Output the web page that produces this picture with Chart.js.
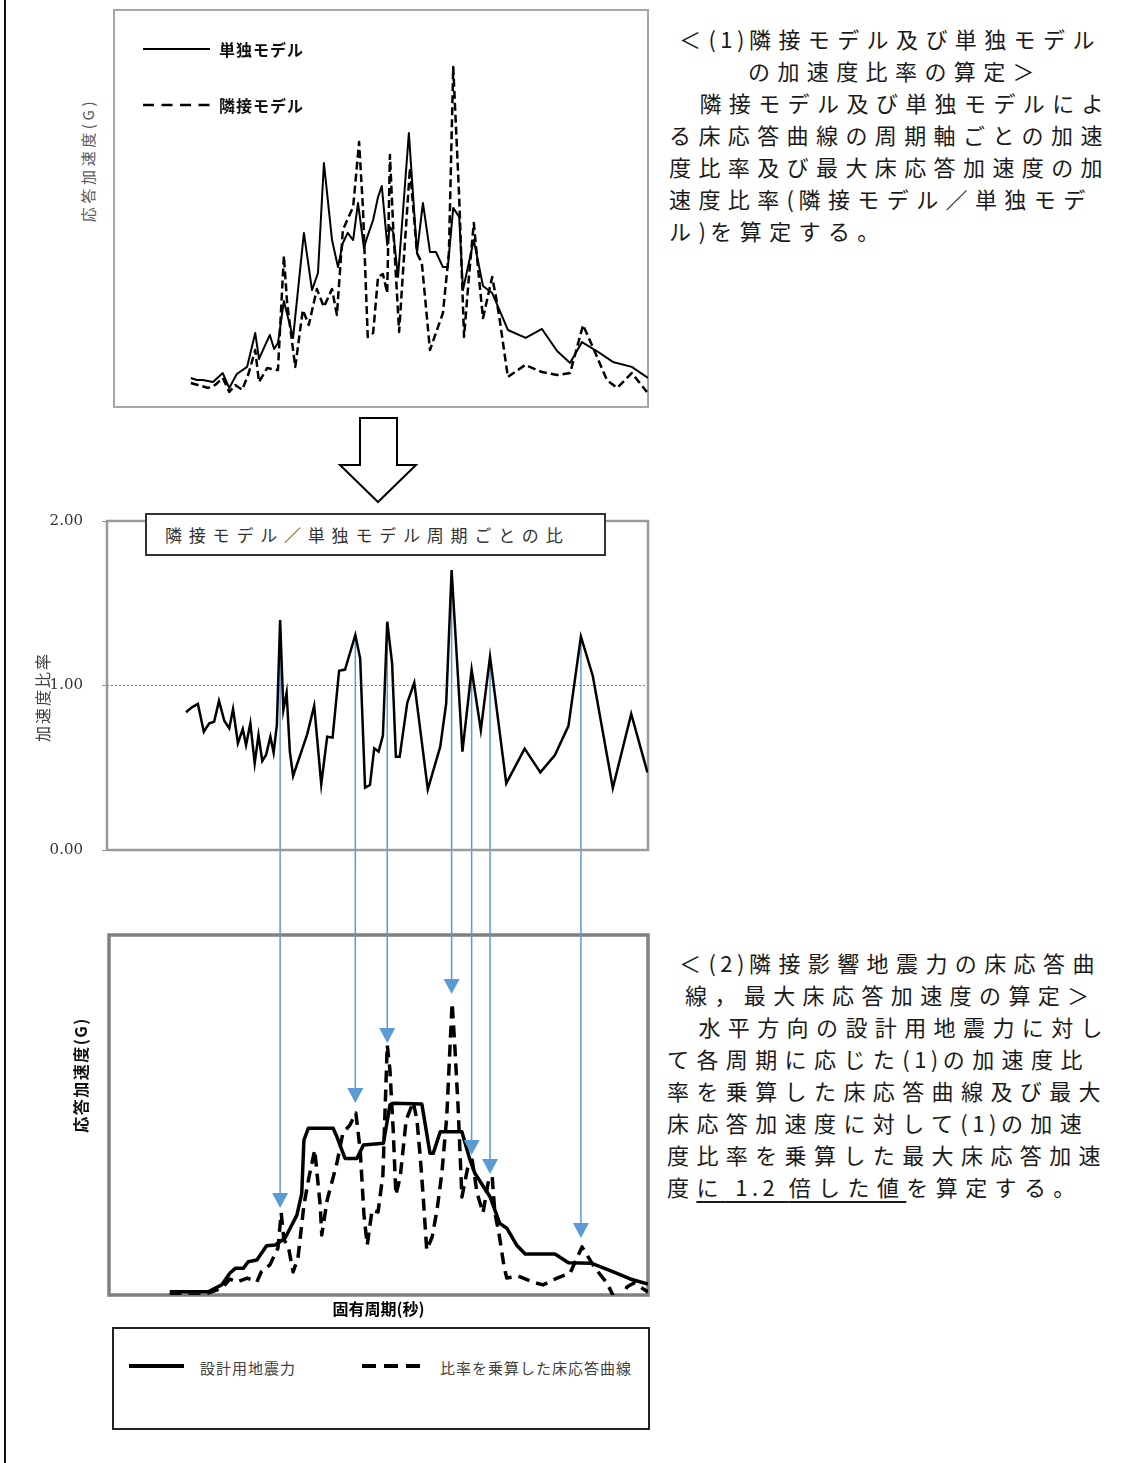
<!DOCTYPE html>
<html lang="ja">
<head>
<meta charset="utf-8">
<title>隣接影響地震力の算定</title>
<script src="https://cdn.jsdelivr.net/npm/chart.js@4.4.1/dist/chart.umd.min.js"></script>
<style>
  html, body { margin: 0; padding: 0; background: #fff; }
  body { width: 1128px; height: 1463px; position: relative; overflow: hidden;
         font-family: 'Noto Sans CJK JP', sans-serif; color: #111; }
  canvas { position: absolute; }
  .abs { position: absolute; }
  .rot { position: absolute; text-align: center; transform: rotate(-90deg); white-space: nowrap; }
  .note { position: absolute; font-size: 22px; letter-spacing: 7.4px; line-height: 32px;
          white-space: nowrap; color: #1a1a1a; }
  .note .h { letter-spacing: 4.5px; }
  .note u { text-decoration-thickness: 2px; text-underline-offset: 5px; }
  .legtxt { position: absolute; white-space: nowrap; line-height: 20px; }
</style>
</head>
<body>

<!-- left rule of the page -->
<div class="abs" style="left:4px;top:0;width:2px;height:1463px;background:#111;"></div>

<!-- response spectra of the two models -->
<canvas id="topChart" width="554" height="417" style="left:104px;top:0;"></canvas>
<div class="rot" style="left:13px;top:150px;width:150px;height:20px;line-height:20px;font-size:15px;letter-spacing:3.6px;color:#595959;">応答加速度(G)</div>
<svg class="abs" style="left:140px;top:39px;" width="75" height="72">
  <line x1="3" y1="10" x2="70" y2="10" stroke="#000" stroke-width="2"/>
  <line x1="3" y1="66" x2="70" y2="66" stroke="#000" stroke-width="2.5" stroke-dasharray="11 7.5"/>
</svg>
<div class="legtxt" id="legSingle" style="left:219px;top:39px;font-size:16px;font-weight:bold;letter-spacing:1px;"></div>
<div class="legtxt" id="legAdj" style="left:219px;top:95px;font-size:16px;font-weight:bold;letter-spacing:1px;"></div>

<!-- block arrow -->
<svg class="abs" style="left:0;top:0;" width="440" height="510">
  <polygon points="360,418 397,418 397,465 416,465 378,502 340,465 360,465" fill="#fff" stroke="#000" stroke-width="2" stroke-linejoin="miter"/>
</svg>

<!-- ratio chart and response chart -->
<canvas id="bottomChart" width="600" height="400" style="left:60px;top:926px;z-index:0;"></canvas>
<svg id="arrows" class="abs" style="left:0;top:0;z-index:1;pointer-events:none;" width="1128" height="1463"></svg>
<canvas id="ratioChart" width="660" height="360" style="left:0;top:505px;z-index:2;"></canvas>
<div class="rot" style="left:-8px;top:687px;width:100px;height:20px;line-height:20px;font-size:16px;letter-spacing:2px;color:#404040;z-index:3;">加速度比率</div>
<div class="abs" style="left:145px;top:513px;width:461px;height:43px;box-sizing:border-box;border:2px solid #333;background:#fff;z-index:3;font-size:17px;letter-spacing:6.8px;line-height:39px;padding-left:18px;color:#333;white-space:nowrap;">隣接モデル／単独モデル周期ごとの比</div>

<div class="rot" style="left:10px;top:1065px;width:140px;height:20px;line-height:20px;font-size:16px;font-weight:bold;letter-spacing:1.5px;">応答加速度(G)</div>

<div class="abs" style="left:112px;top:1327px;width:538px;height:103px;box-sizing:border-box;border:2px solid #222;"></div>
<svg class="abs" style="left:120px;top:1356px;" width="320" height="20">
  <line x1="9" y1="10" x2="64" y2="10" stroke="#000" stroke-width="4"/>
  <line x1="242" y1="10" x2="300" y2="10" stroke="#000" stroke-width="4" stroke-dasharray="14 8"/>
</svg>
<div class="legtxt" id="legDesign" style="left:200px;top:1358px;font-size:15px;letter-spacing:1px;color:#404040;"></div>
<div class="legtxt" id="legScaled" style="left:440px;top:1358px;font-size:15px;letter-spacing:1px;color:#404040;"></div>

<!-- explanatory notes -->
<div class="note" style="left:679px;top:22px;">＜<span class="h">(1)</span>隣接モデル及び単独モデル</div>
<div class="note" style="left:748px;top:54px;">の加速度比率の算定＞</div>
<div class="note" style="left:670px;top:86px;">　隣接モデル及び単独モデルによ</div>
<div class="note" style="left:669px;top:118px;">る床応答曲線の周期軸ごとの加速</div>
<div class="note" style="left:669px;top:150px;">度比率及び最大床応答加速度の加</div>
<div class="note" style="left:669px;top:182px;">速度比率<span class="h">(</span>隣接モデル／単独モデ</div>
<div class="note" style="left:669px;top:214px;">ル<span class="h">)</span>を算定する。</div>

<div class="note" style="left:679px;top:946px;">＜<span class="h">(2)</span>隣接影響地震力の床応答曲</div>
<div class="note" style="left:685px;top:978px;">線，最大床応答加速度の算定＞</div>
<div class="note" style="left:669px;top:1010px;">　水平方向の設計用地震力に対し</div>
<div class="note" style="left:667px;top:1042px;">て各周期に応じた<span class="h">(1)</span>の加速度比</div>
<div class="note" style="left:667px;top:1074px;">率を乗算した床応答曲線及び最大</div>
<div class="note" style="left:667px;top:1106px;">床応答加速度に対して<span class="h">(1)</span>の加速</div>
<div class="note" style="left:667px;top:1138px;">度比率を乗算した最大床応答加速</div>
<div class="note" style="left:667px;top:1170px;">度<u>に<span class="h"> 1.2 </span>倍した値</u>を算定する。</div>

<script>
// ---- series labels ----
const singleLabel = '単独モデル';
const adjLabel = '隣接モデル';
const designLabel = '設計用地震力';
const scaledLabel = '比率を乗算した床応答曲線';

// ---- 単独モデル: floor response (period s, acceleration G) ----
const singlePeriod = [0.155,0.166,0.177,0.196,0.214,0.226,0.240,0.259,0.274,0.281,0.301,0.309,0.316,0.327,0.344,0.364,0.379,0.390,0.401,0.416,0.427,0.436,0.445,0.455,0.464,0.475,0.481,0.492,0.501,0.508,0.518,0.523,0.529,0.538,0.558,0.573,0.584,0.597,0.608,0.621,0.630,0.640,0.651,0.658,0.678,0.695,0.712,0.723,0.741,0.774,0.804,0.832,0.856,0.878,0.908,0.935,0.970,1.000];
const singleAccel  = [0.146,0.136,0.136,0.126,0.171,0.096,0.166,0.202,0.373,0.242,0.363,0.292,0.322,0.534,0.348,0.877,0.589,0.675,1.229,0.841,0.705,0.826,0.877,0.841,1.028,0.801,0.856,0.942,1.058,1.113,0.816,0.907,0.882,0.655,1.380,0.776,1.028,0.781,0.781,0.705,0.705,1.003,0.957,0.589,0.841,0.610,0.574,0.504,0.388,0.348,0.393,0.282,0.222,0.327,0.277,0.227,0.202,0.146];

// ---- 隣接モデル: floor response ----
const adjPeriod = [0.155,0.168,0.187,0.200,0.214,0.226,0.237,0.250,0.262,0.274,0.281,0.296,0.316,0.327,0.333,0.348,0.362,0.373,0.388,0.401,0.416,0.425,0.436,0.455,0.466,0.473,0.482,0.492,0.501,0.510,0.518,0.523,0.529,0.540,0.547,0.560,0.573,0.582,0.597,0.608,0.621,0.632,0.640,0.651,0.660,0.669,0.678,0.688,0.695,0.712,0.719,0.726,0.741,0.773,0.804,0.832,0.856,0.880,0.898,0.924,0.943,0.970,0.998];
const adjAccel  = [0.121,0.111,0.096,0.111,0.146,0.076,0.111,0.086,0.171,0.287,0.126,0.196,0.186,0.761,0.524,0.202,0.489,0.413,0.594,0.504,0.594,0.463,0.892,1.008,1.335,1.008,0.353,0.373,0.655,0.670,0.574,1.270,0.907,0.378,0.675,1.204,0.776,0.725,0.287,0.373,0.474,0.776,1.713,1.058,0.353,0.655,0.927,0.640,0.448,0.655,0.554,0.438,0.151,0.212,0.176,0.161,0.171,0.413,0.302,0.136,0.096,0.171,0.076];

// ---- 隣接／単独 ratio per period ----
const ratioPeriod = [0.146,0.157,0.168,0.179,0.189,0.198,0.207,0.217,0.226,0.233,0.242,0.251,0.257,0.265,0.273,0.280,0.287,0.294,0.302,0.308,0.314,0.320,0.326,0.332,0.338,0.344,0.370,0.383,0.396,0.407,0.417,0.429,0.440,0.459,0.468,0.477,0.486,0.494,0.502,0.510,0.518,0.527,0.534,0.541,0.555,0.568,0.593,0.616,0.627,0.637,0.657,0.674,0.691,0.708,0.738,0.772,0.801,0.828,0.853,0.876,0.898,0.935,0.969,0.999];
const ratioValue  = [0.837,0.867,0.888,0.719,0.770,0.780,0.906,0.784,0.740,0.857,0.649,0.736,0.638,0.770,0.527,0.699,0.541,0.578,0.689,0.592,0.760,1.398,0.851,0.956,0.598,0.450,0.703,0.877,0.399,0.689,0.683,1.090,1.097,1.307,1.165,0.379,0.395,0.618,0.598,0.695,1.388,1.135,0.567,0.567,0.895,1.017,0.369,0.628,0.892,1.702,0.598,1.097,0.729,1.175,0.405,0.616,0.472,0.577,0.755,1.297,1.058,0.377,0.827,0.472];
const ratioTicks = [0, 1, 2];

// ---- 設計用地震力 (design floor response) ----
const designPeriod = [0.116,0.187,0.212,0.227,0.237,0.252,0.261,0.277,0.295,0.311,0.329,0.351,0.360,0.364,0.372,0.418,0.425,0.440,0.462,0.474,0.511,0.523,0.529,0.582,0.597,0.603,0.616,0.656,0.671,0.680,0.708,0.726,0.739,0.757,0.773,0.828,0.853,0.896,0.936,0.967,1.000];
const designAccel  = [0.018,0.018,0.056,0.121,0.148,0.148,0.185,0.194,0.274,0.278,0.315,0.444,0.565,0.861,0.926,0.926,0.879,0.759,0.759,0.833,0.843,1.056,1.065,1.061,0.787,0.787,0.907,0.907,0.750,0.676,0.546,0.398,0.371,0.278,0.228,0.228,0.179,0.176,0.129,0.089,0.061];

// ---- design response multiplied by the ratio ----
const scaledPeriod = [0.116,0.135,0.177,0.213,0.227,0.240,0.259,0.277,0.285,0.301,0.316,0.322,0.327,0.335,0.344,0.353,0.364,0.373,0.384,0.394,0.397,0.407,0.425,0.436,0.449,0.460,0.468,0.475,0.481,0.490,0.501,0.510,0.518,0.523,0.529,0.534,0.542,0.553,0.566,0.573,0.579,0.584,0.591,0.601,0.610,0.619,0.628,0.634,0.638,0.643,0.649,0.656,0.667,0.675,0.684,0.695,0.706,0.712,0.717,0.725,0.734,0.739,0.760,0.787,0.806,0.832,0.856,0.878,0.902,0.924,0.935,0.945,0.961,0.974,1.000];
const scaledAccel  = [0.011,0.000,0.000,0.039,0.089,0.072,0.094,0.072,0.128,0.167,0.261,0.456,0.306,0.272,0.128,0.206,0.500,0.650,0.806,0.500,0.333,0.528,0.733,0.900,0.944,1.011,0.806,0.444,0.278,0.472,0.461,0.667,1.389,1.250,0.917,0.556,0.656,0.972,1.072,0.972,0.767,0.567,0.250,0.322,0.472,0.678,0.989,1.378,1.622,1.378,1.044,0.544,0.711,0.750,0.567,0.456,0.650,0.656,0.456,0.333,0.156,0.094,0.106,0.072,0.056,0.094,0.122,0.267,0.150,0.067,0.000,-0.056,0.044,0.067,0.017];

// ---- periods whose ratio peaks are carried down, and where each arrow ends (G) ----
const arrowPeriods = [0.320, 0.459, 0.518, 0.637, 0.674, 0.708, 0.876];
const arrowTips    = [0.483, 1.067, 1.400, 1.672, 0.778, 0.672, 0.317];

const pts = (xs, ys) => xs.map((x, i) => ({ x, y: ys[i] }));

// plot frame around the chart area
const framePlugin = {
  id: 'frame',
  beforeDatasetsDraw(chart, args, opts) {
    const { ctx, chartArea: a } = chart;
    ctx.save();
    ctx.strokeStyle = opts.color;
    ctx.lineWidth = opts.width;
    ctx.strokeRect(a.left, a.top, a.right - a.left, a.bottom - a.top);
    ctx.restore();
  }
};

const base = {
  responsive: false,
  animation: false,
  devicePixelRatio: 1,
  events: [],
  elements: { point: { radius: 0 }, line: { tension: 0 } },
};

// top: 単独 / 隣接 floor response
const topChart = new Chart(document.getElementById('topChart'), {
  type: 'line',
  data: { datasets: [
    { label: singleLabel, data: pts(singlePeriod, singleAccel), borderColor: '#000', borderWidth: 2, borderJoinStyle: 'round' },
    { label: adjLabel, data: pts(adjPeriod, adjAccel), borderColor: '#000', borderWidth: 2.5, borderDash: [8, 4], borderJoinStyle: 'round' },
  ]},
  options: { ...base,
    layout: { padding: 10 },
    plugins: { legend: { display: false }, tooltip: { enabled: false }, frame: { color: '#a6a6a6', width: 2 } },
    scales: {
      x: { type: 'linear', min: 0.013, max: 1.0, display: false },
      y: { min: 0, max: 2.0, display: false },
    },
  },
  plugins: [framePlugin],
});

// middle: ratio per period
const ratioChart = new Chart(document.getElementById('ratioChart'), {
  type: 'line',
  data: { datasets: [
    { label: '隣接モデル／単独モデル', data: pts(ratioPeriod, ratioValue), borderColor: '#000', borderWidth: 2.5, borderJoinStyle: 'miter' },
  ]},
  options: { ...base,
    layout: { padding: { left: 0, top: 16, right: 12, bottom: 15 } },
    plugins: { legend: { display: false }, tooltip: { enabled: false }, frame: { color: '#9a9a9a', width: 2.5 } },
    scales: {
      x: { type: 'linear', min: 0, max: 1.0, display: false },
      y: {
        min: 0, max: 2.0,
        afterBuildTicks: s => { s.ticks = ratioTicks.map(v => ({ value: v })); },
        afterFit: s => { s.width = 107; s.paddingTop = 0; s.paddingBottom = 0; },
        ticks: { padding: 19, color: '#333', font: { family: "'DejaVu Serif', serif", size: 15 },
                 callback: v => Number(v).toFixed(2) },
        grid: {
          drawTicks: true, tickLength: 5, tickColor: '#8c8c8c', lineWidth: 1,
          color: c => (c.tick && c.tick.value === 1) ? '#808080' : 'rgba(0,0,0,0)',
        },
        border: { display: false, dash: [2, 2] },
      },
    },
  },
  plugins: [framePlugin],
});

// bottom: design response and the ratio-scaled response
const bottomChart = new Chart(document.getElementById('bottomChart'), {
  type: 'line',
  data: { datasets: [
    { label: designLabel, data: pts(designPeriod, designAccel), borderColor: '#000', borderWidth: 3.5, borderJoinStyle: 'round' },
    { label: scaledLabel, data: pts(scaledPeriod, scaledAccel), borderColor: '#000', borderWidth: 3.5, borderDash: [12, 7], borderJoinStyle: 'round' },
  ]},
  options: { ...base,
    layout: { padding: { left: 49, top: 9, right: 12, bottom: 0 } },
    plugins: { legend: { display: false }, tooltip: { enabled: false }, frame: { color: '#808080', width: 3.5 } },
    scales: {
      x: {
        type: 'linear', min: 0.0037, max: 1.0,
        afterFit: s => { s.height = 31; },
        ticks: { display: false },
        grid: { display: false, drawTicks: false },
        border: { display: false },
        title: { display: true, text: '固有周期(秒)', color: '#000',
                 font: { family: "'Noto Sans CJK JP', sans-serif", size: 16, weight: 'bold' },
                 padding: { top: 0, bottom: 7 } },
      },
      y: { min: 0, max: 2.0, display: false },
    },
  },
  plugins: [framePlugin],
});

// legend texts
document.getElementById('legSingle').textContent = singleLabel;
document.getElementById('legAdj').textContent = adjLabel;
document.getElementById('legDesign').textContent = designLabel;
document.getElementById('legScaled').textContent = scaledLabel;

// blue arrows from each ratio peak down to the scaled response
(function drawArrows() {
  const svg = document.getElementById('arrows');
  const NS = 'http://www.w3.org/2000/svg';
  const midC = document.getElementById('ratioChart');
  const botC = document.getElementById('bottomChart');
  const blue = '#5b9bd5';
  arrowPeriods.forEach((p, i) => {
    let k = 0;
    ratioPeriod.forEach((q, j) => { if (Math.abs(q - p) < Math.abs(ratioPeriod[k] - p)) k = j; });
    const x = midC.offsetLeft + ratioChart.scales.x.getPixelForValue(ratioPeriod[k]);
    const y0 = midC.offsetTop + ratioChart.scales.y.getPixelForValue(ratioValue[k]);
    const y1 = botC.offsetTop + bottomChart.scales.y.getPixelForValue(arrowTips[i]);
    const line = document.createElementNS(NS, 'line');
    line.setAttribute('x1', x); line.setAttribute('y1', y0);
    line.setAttribute('x2', x); line.setAttribute('y2', y1 - 14);
    line.setAttribute('stroke', blue); line.setAttribute('stroke-width', '1.5');
    svg.appendChild(line);
    const head = document.createElementNS(NS, 'polygon');
    head.setAttribute('points', `${x - 8},${y1 - 15} ${x + 8},${y1 - 15} ${x},${y1}`);
    head.setAttribute('fill', blue);
    svg.appendChild(head);
  });
})();
</script>
</body>
</html>
